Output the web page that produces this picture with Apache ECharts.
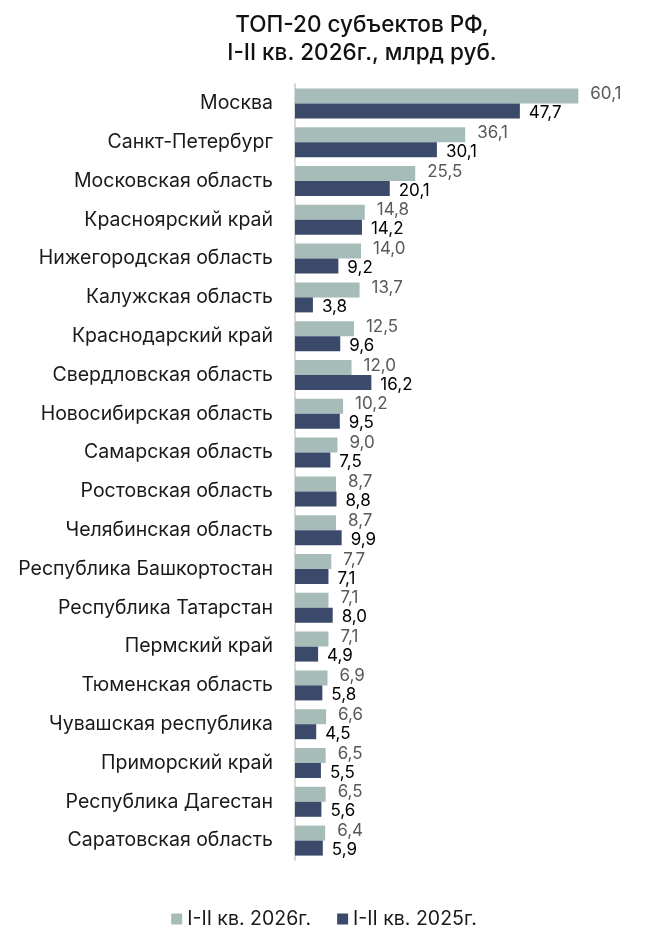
<!DOCTYPE html>
<html>
<head>
<meta charset="utf-8">
<script src="https://cdn.jsdelivr.net/npm/echarts@6/dist/echarts.min.js"></script>
<style>
  html, body { margin: 0; padding: 0; background: #fff; }
  #chart { width: 648px; height: 946px; }
</style>
</head>
<body>
<div id="chart"></div>
<script>
const regions = [
  'Москва', 'Санкт-Петербург', 'Московская область', 'Красноярский край',
  'Нижегородская область', 'Калужская область', 'Краснодарский край',
  'Свердловская область', 'Новосибирская область', 'Самарская область',
  'Ростовская область', 'Челябинская область', 'Республика Башкортостан',
  'Республика Татарстан', 'Пермский край', 'Тюменская область',
  'Чувашская республика', 'Приморский край', 'Республика Дагестан',
  'Саратовская область',
];
const values2026 = [60.1, 36.1, 25.5, 14.8, 14.0, 13.7, 12.5, 12.0, 10.2, 9.0,
  8.7, 8.7, 7.7, 7.1, 7.1, 6.9, 6.6, 6.5, 6.5, 6.4];
const values2025 = [47.7, 30.1, 20.1, 14.2, 9.2, 3.8, 9.6, 16.2, 9.5, 7.5,
  8.8, 9.9, 7.1, 8.0, 4.9, 5.8, 4.5, 5.5, 5.6, 5.9];
const seriesNames = ['I-II кв. 2026г.', 'I-II кв. 2025г.'];

const FONT = 'Inter, "Noto Sans", sans-serif';
const fmt = (p) => p.value.toFixed(1).replace('.', ',');

const chart = echarts.init(document.getElementById('chart'));
chart.setOption({
  animation: false,
  textStyle: { fontFamily: FONT },
  title: {
    text: 'ТОП-20 субъектов РФ,\nI-II кв. 2026г., млрд руб.',
    left: 357,
    top: 6,
    textAlign: 'center',
    textStyle: { fontSize: 22.5, fontWeight: 500, color: '#111', lineHeight: 28, fontFamily: FONT },
  },
  legend: {
    bottom: 12,
    left: 'center',
    itemWidth: 11,
    itemHeight: 11,
    itemGap: 26,
    icon: 'rect',
    textStyle: { fontSize: 19.5, color: '#1a1a1a', fontFamily: FONT },
    data: seriesNames,
  },
  grid: {
    left: 295,
    right: 23,
    top: 84,
    bottom: 86,
    containLabel: false,
  },
  xAxis: {
    type: 'value',
    min: 0,
    max: 70,
    show: false,
  },
  yAxis: {
    type: 'category',
    inverse: true,
    data: regions,
    axisLine: { show: true, lineStyle: { color: '#d9d9d9', width: 2 } },
    axisTick: { show: false },
    axisLabel: { fontSize: 19.5, color: '#1a1a1a', margin: 22, fontFamily: FONT },
  },
  series: [
    {
      name: seriesNames[0],
      type: 'bar',
      data: values2026,
      barWidth: 15,
      barGap: '0%',
      itemStyle: { color: '#a6bcb8' },
      label: {
        show: true,
        position: 'right',
        distance: 12,
        offset: [0, -2],
        color: '#595959',
        fontSize: 17,
        fontFamily: FONT,
        formatter: fmt,
      },
    },
    {
      name: seriesNames[1],
      type: 'bar',
      data: values2025,
      barWidth: 15,
      itemStyle: { color: '#3b4a6b' },
      label: {
        show: true,
        position: 'right',
        distance: 9,
        offset: [0, 2],
        color: '#000',
        fontSize: 17,
        fontFamily: FONT,
        formatter: fmt,
      },
    },
  ],
});
</script>
</body>
</html>
